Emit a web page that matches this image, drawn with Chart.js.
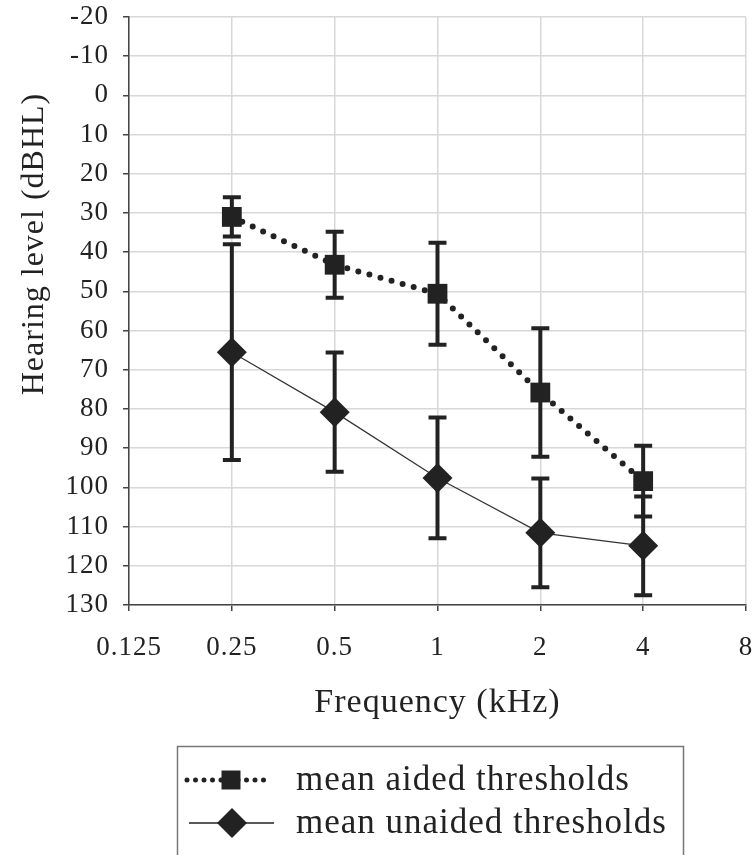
<!DOCTYPE html>
<html>
<head>
<meta charset="utf-8">
<script src="https://cdn.jsdelivr.net/npm/chart.js@4"></script>
<style>
  html, body { margin: 0; padding: 0; background: #fff; overflow: hidden; }
  #wrap { width: 754px; height: 855px; position: relative; }
  canvas { display: block; }
</style>
</head>
<body>
<div id="wrap"><canvas id="chart"></canvas></div>
<script>
/* ================= DATA ================= */
const freqs = [0.25, 0.5, 1, 2, 4];
const aidedMean = [31, 43.2, 50.6, 75.8, 98.4];
const aidedSD = [5, 8.4, 13, 16.4, 9];
const unaidedMean = [65.5, 80.8, 97.6, 111.6, 114.9];
const unaidedSD = [27.5, 15.2, 15.4, 13.9, 12.6];
const xTicks = [0.125, 0.25, 0.5, 1, 2, 4, 8];
const seriesNames = ["mean aided thresholds", "mean unaided thresholds"];
const yTitle = "Hearing level (dBHL)";

const INK = "#222";
const FONT = "'Liberation Serif', 'Times New Roman', serif";

/* ================= PLUGINS ================= */
const spacing = {
  id: "spacing",
  beforeDraw(chart) { chart.ctx.letterSpacing = "1px"; }
};

const errorBars = {
  id: "errorBars",
  beforeDatasetsDraw(chart) {
    const { ctx, scales: { x, y } } = chart;
    ctx.save();
    ctx.strokeStyle = INK;
    ctx.lineWidth = 4;
    chart.data.datasets.forEach(ds => {
      ds.data.forEach((p, i) => {
        const px = x.getPixelForValue(p.x);
        const top = y.getPixelForValue(p.y - ds.errors[i]);
        const bot = y.getPixelForValue(p.y + ds.errors[i]);
        ctx.beginPath();
        ctx.moveTo(px, top); ctx.lineTo(px, bot);
        ctx.moveTo(px - 9, top); ctx.lineTo(px + 9, top);
        ctx.moveTo(px - 9, bot); ctx.lineTo(px + 9, bot);
        ctx.stroke();
      });
    });
    ctx.restore();
  }
};

// y title sits above the plot's middle in the original, so draw it by hand
const sideTitle = {
  id: "sideTitle",
  afterDraw(chart) {
    const ctx = chart.ctx;
    ctx.save();
    ctx.translate(35, 244);
    ctx.rotate(-Math.PI / 2);
    ctx.font = "32px " + FONT;
    ctx.letterSpacing = "1px";
    ctx.fillStyle = INK;
    ctx.textAlign = "center";
    ctx.textBaseline = "middle";
    ctx.fillText(yTitle, 0, 0);
    ctx.restore();
  }
};

const boxLegend = {
  id: "boxLegend",
  afterDraw(chart) {
    const ctx = chart.ctx;
    ctx.save();
    ctx.strokeStyle = "#777";
    ctx.lineWidth = 1.5;
    ctx.strokeRect(177.5, 746.5, 506, 200);

    // row 1: dotted + square
    ctx.strokeStyle = INK;
    ctx.fillStyle = INK;
    ctx.lineWidth = 5;
    ctx.lineCap = "round";
    ctx.setLineDash([0, 8.5]);
    ctx.beginPath(); ctx.moveTo(187, 780); ctx.lineTo(270, 780); ctx.stroke();
    ctx.setLineDash([]);
    ctx.fillRect(231 - 9.5, 780 - 9.5, 19, 19);

    // row 2: thin line + diamond
    ctx.lineWidth = 1.5;
    ctx.lineCap = "butt";
    ctx.beginPath(); ctx.moveTo(189, 823); ctx.lineTo(274, 823); ctx.stroke();
    ctx.beginPath();
    ctx.moveTo(232, 808); ctx.lineTo(247, 823); ctx.lineTo(232, 838); ctx.lineTo(217, 823);
    ctx.closePath(); ctx.fill();

    ctx.font = "35px " + FONT;
    ctx.letterSpacing = "1px";
    ctx.textBaseline = "middle";
    ctx.textAlign = "left";
    ctx.fillText(seriesNames[0], 296, 781);
    ctx.fillText(seriesNames[1], 296, 824);
    ctx.restore();
  }
};

/* ================= CHART ================= */
new Chart(document.getElementById("chart"), {
  type: "line",
  data: {
    datasets: [
      {
        label: seriesNames[0],
        data: freqs.map((f, i) => ({ x: f, y: aidedMean[i] })),
        errors: aidedSD,
        borderColor: INK,
        borderWidth: 6,
        borderDash: [0, 11.5],
        borderCapStyle: "round",
        pointStyle: "rect",
        pointRadius: 14,
        pointBackgroundColor: INK,
        pointBorderWidth: 0,
        tension: 0
      },
      {
        label: seriesNames[1],
        data: freqs.map((f, i) => ({ x: f, y: unaidedMean[i] })),
        errors: unaidedSD,
        borderColor: "#333",
        borderWidth: 1.2,
        pointStyle: "rectRot",
        pointRadius: 15,
        pointBackgroundColor: INK,
        pointBorderWidth: 0,
        tension: 0
      }
    ]
  },
  options: {
    responsive: true,
    maintainAspectRatio: false,
    animation: false,
    devicePixelRatio: 1,
    layout: { autoPadding: false, padding: { top: 17, right: 8, left: 0, bottom: 0 } },
    plugins: {
      legend: { display: false },
      tooltip: { enabled: false }
    },
    scales: {
      x: {
        type: "logarithmic",
        min: 0.125,
        max: 8,
        afterBuildTicks: scale => {
          scale.ticks = xTicks.map(v => ({ value: v }));
        },
        afterFit: scale => {
          scale.height = 250;
          scale.paddingLeft = 0;
          scale.paddingRight = 0;
        },
        ticks: {
          autoSkip: false,
          maxRotation: 0,
          padding: 21,
          color: INK,
          font: { family: FONT, size: 27 },
          callback: v => String(v)
        },
        grid: { color: "#d8d8d8", lineWidth: 1.5, tickColor: "#444", tickLength: 6, tickWidth: 1.5 },
        border: { color: "#444", width: 1.5 },
        title: {
          display: true,
          text: "Frequency (kHz)",
          color: INK,
          font: { family: FONT, size: 34 },
          padding: { top: 0, bottom: 132 }
        }
      },
      y: {
        reverse: true,
        min: -20,
        max: 130,
        afterFit: scale => {
          scale.width = 129;
          scale.paddingTop = 0;
          scale.paddingBottom = 0;
        },
        ticks: {
          stepSize: 10,
          autoSkip: false,
          padding: 14,
          color: INK,
          font: { family: FONT, size: 27 }
        },
        grid: { color: "#d8d8d8", lineWidth: 1.5, tickColor: "#444", tickLength: 6, tickWidth: 1.5 },
        border: { color: "#444", width: 1.5 },
        title: { display: false }
      }
    }
  },
  plugins: [spacing, errorBars, sideTitle, boxLegend]
});
</script>
</body>
</html>
